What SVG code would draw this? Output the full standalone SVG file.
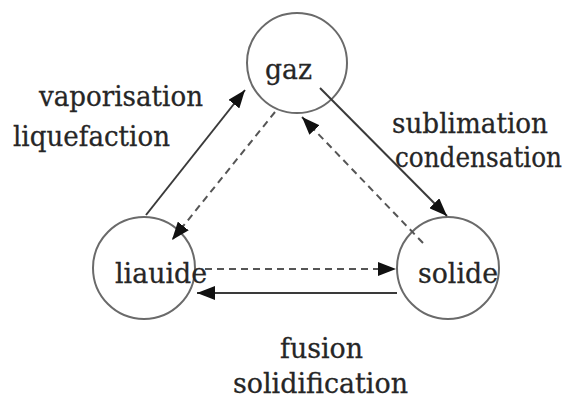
<svg xmlns="http://www.w3.org/2000/svg" width="570" height="401" viewBox="0 0 570 401">
<defs>
<style>
.node circle{fill:#fff;stroke:#6a6a6a;stroke-width:2}
.t{font-family:'DejaVu Serif','Liberation Serif',serif;font-size:28px;fill:#262626;stroke:#262626;stroke-width:0.3}
.c{stroke:#3a3a3a;stroke-width:2;fill:none}
.d{stroke-dasharray:7,5;stroke:#555}
</style>
<marker id="ah" viewBox="0 0 18 14" refX="18" refY="7" markerWidth="18" markerHeight="14" markerUnits="userSpaceOnUse" orient="auto">
<path d="M0,0 L18,7 L0,14 z" fill="#111"/>
</marker>
</defs>
<rect width="570" height="401" fill="#fff"/>
<g id="gaz" class="node"><circle cx="297" cy="63" r="50"/><text class="t" x="265" y="79" textLength="47" lengthAdjust="spacingAndGlyphs">gaz</text></g>
<g id="liquide" class="node"><circle cx="144" cy="268" r="51"/><text class="t" x="115" y="283" textLength="92" lengthAdjust="spacingAndGlyphs">liauide</text></g>
<g id="solide" class="node"><circle cx="448" cy="268" r="51"/><text class="t" x="418" y="283" textLength="80" lengthAdjust="spacingAndGlyphs">solide</text></g>
<g id="connectors">
<line class="c" x1="146" y1="215" x2="245" y2="90" marker-end="url(#ah)"/>
<line class="c d" x1="275" y1="112" x2="172" y2="240" marker-end="url(#ah)"/>
<line class="c" x1="320" y1="88" x2="447" y2="216" marker-end="url(#ah)"/>
<line class="c d" x1="423" y1="243" x2="302" y2="117" marker-end="url(#ah)"/>
<line class="c d" x1="205" y1="269" x2="396" y2="269" marker-end="url(#ah)"/>
<line class="c" x1="397" y1="293" x2="197" y2="293" marker-end="url(#ah)"/>
</g>
<g id="labels">
<text class="t" x="39" y="106" textLength="164" lengthAdjust="spacingAndGlyphs">vaporisation</text>
<text class="t" x="13" y="146" textLength="157" lengthAdjust="spacingAndGlyphs">liquefaction</text>
<text class="t" x="392" y="133" textLength="156" lengthAdjust="spacingAndGlyphs">sublimation</text>
<text class="t" x="395" y="167" textLength="167" lengthAdjust="spacingAndGlyphs">condensation</text>
<text class="t" x="280" y="358" textLength="83" lengthAdjust="spacingAndGlyphs">fusion</text>
<text class="t" x="233" y="393" textLength="175" lengthAdjust="spacingAndGlyphs">solidification</text>
</g>
</svg>
